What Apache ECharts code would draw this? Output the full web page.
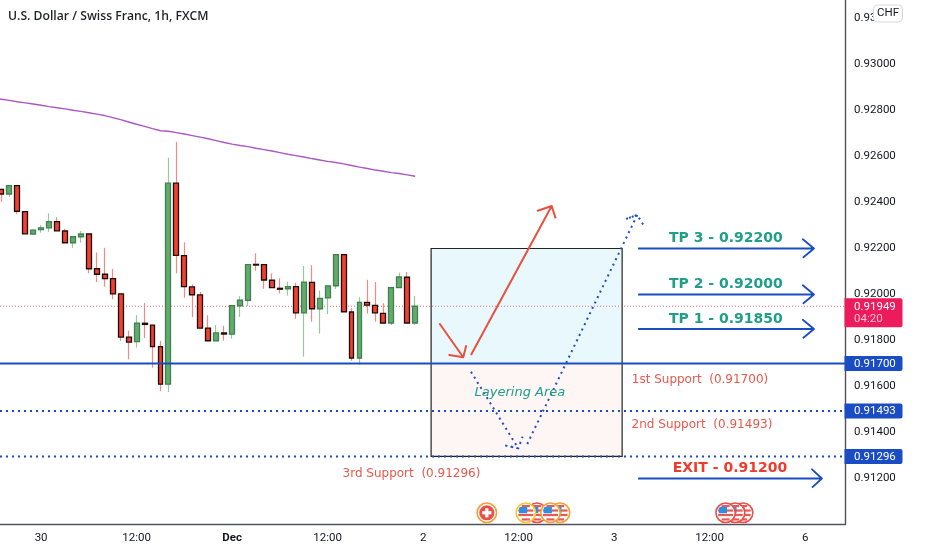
<!DOCTYPE html>
<html><head><meta charset="utf-8">
<style>html,body{margin:0;padding:0;background:#fff}#c{width:932px;height:550px}</style>
<script src="https://cdn.jsdelivr.net/npm/echarts@6/dist/echarts.min.js"></script>
</head><body><div id="c"></div>
<script>
const chartTitle='U.S. Dollar / Swiss Franc, 1h, FXCM';
const quoteCurrency='CHF';
const opens=[.92457,.92437,.92473,.92360,.92263,.92282,.92290,.92317,.92276,.92225,.92251,.92263,.92112,.92088,.92069,.92003,.91815,.91795,.91875,.91867,.91773,.91610,.92484,.92169,.92033,.91998,.91854,.91799,.91833,.91828,.91951,.91975,.92131,.92130,.92062,.92027,.92025,.92034,.91920,.92053,.91938,.91985,.92038,.92173,.91924,.91724,.91966,.91953,.91918,.91876,.92030,.92075,.91876];
const closes=[.92437,.92473,.92362,.92264,.92280,.92290,.92317,.92277,.92225,.92251,.92263,.92112,.92088,.92069,.92003,.91815,.91793,.91875,.91870,.91773,.91610,.92484,.92170,.92034,.91999,.91854,.91799,.91833,.91828,.91951,.91975,.92130,.92128,.92063,.92030,.92023,.92034,.91920,.92054,.91938,.91983,.92037,.92173,.91925,.91724,.91966,.91954,.91920,.91876,.92030,.92076,.91876,.91949];
const highs=[.92459,.92473,.92473,.92360,.92283,.92302,.92353,.92336,.92286,.92251,.92276,.92263,.92183,.92203,.92111,.92003,.91843,.91910,.91963,.91867,.91798,.92595,.92664,.92227,.92044,.92012,.91910,.91867,.91864,.91951,.91993,.92130,.92179,.92130,.92092,.92070,.92056,.92051,.92124,.92127,.92017,.92037,.92173,.92173,.91940,.91988,.92064,.92054,.91962,.92030,.92095,.92098,.91993];
const lows=[.92403,.92425,.92349,.92264,.92259,.92269,.92273,.92277,.92225,.92203,.92225,.92092,.92054,.92034,.91979,.91799,.91718,.91769,.91811,.91682,.91580,.91576,.92092,.91986,.91902,.91854,.91799,.91799,.91799,.91808,.91902,.91950,.92103,.92025,.92030,.92005,.91995,.91895,.91730,.91882,.91830,.91915,.92024,.91925,.91712,.91695,.91917,.91882,.91876,.91867,.92030,.91876,.91867];
// moving average starts one hour before the first visible candle
const movingAverage=[.92854,.92849,.92844,.92838,.92833,.92828,.92823,.92817,.92812,.92807,.92801,.92796,.92790,.92784,.92778,.92769,.92760,.92750,.92740,.92731,.92721,.92712,.92710,.92704,.92698,.92691,.92684,.92677,.92669,.92661,.92654,.92648,.92643,.92636,.92630,.92624,.92617,.92610,.92604,.92598,.92591,.92585,.92579,.92574,.92568,.92561,.92554,.92548,.92541,.92536,.92530,.92526,.92520,.92514];

const timeTickHours=[5,17,29,41,53,65,77,89,101];
const timeTickLabels=['30','12:00','Dec','12:00','2','12:00','3','12:00','6'];

const lastPrice=.91949, countdown='04:20';
const supportLevels=[.91700,.91493,.91296];

const boxLeft=54, boxRight=78, boxTop=.92200, boxMiddle=.91700, boxBottom=.91296;

const targetPrices=[.92200,.92000,.91850];
const exitPrice=.91200;

const noteTexts=['TP 3 - 0.92200','TP 2 - 0.92000','TP 1 - 0.91850','EXIT - 0.91200','1st Support  (0.91700)','2nd Support  (0.91493)','3rd Support  (0.91296)','Layering Area'];
const noteHours=[91.04,91.04,91.04,91.55,87.78,88.03,51.53,65.16];
const notePrices=[.92244,.92043,.91892,.91246,.91628,.91434,.91218,.91572];

const redArrowDown=[[55.03,.91875],[58.04,.91727],[56.28,.91737],[58.04,.91727],[58.42,.91779]];
const redArrowUp=[[59.01,.91737],[69.15,.92385],[67.39,.92364],[69.15,.92385],[69.65,.92331]];
const dottedDown=[[59.01,.91664],[64.95,.91331],[63.41,.91343],[64.95,.91331],[65.5,.91382]];
const dottedUp=[[66.08,.91350],[79.9,.92346],[78.44,.92328],[79.9,.92346],[80.74,.92298]];

const eventHours=[67.3,70.2,69,65.9,61,93.2,92.2,91];
const eventKinds=['us','us','us','us','ch','us','us','us'];
const eventRings=['#e9504a','#f7a031','#f7a031','#fbc62d','#f7a031','#e9504a','#e9504a','#e9504a'];
const eventPrice=.91051;

const xMin=-.163, xMax=106;
const yMin=.91, yMax=.932804;
const hours=opens.map((_,i)=>i);

const BLUE='#1a4cc4', RED='#e9503f', TEAL='#1f9e8a', PINK='#ec1c5c';

function path(points,color,width,type,z){
  return {type:'line',data:points,showSymbol:false,symbol:'none',silent:true,animation:false,z:z||6,
    lineStyle:{color:color,width:width,type:type||'solid',cap:'butt',join:'round'}};
}
function arrow(price,startH,tipH,backH){
  return [[startH,price],[tipH,price],[backH,price+.0004],[tipH,price],[backH,price-.0004]];
}

const series=[];
// trade box
series.push({type:'custom',z:1,silent:true,animation:false,clip:false,data:[[boxLeft,boxTop,boxRight,boxMiddle,0],[boxLeft,boxMiddle,boxRight,boxBottom,1]],
  encode:{x:[0,2],y:[1,3]},
  renderItem:(p,api)=>{
    const a=api.coord([api.value(0),api.value(1)]),b=api.coord([api.value(2),api.value(3)]);
    return {type:'rect',shape:{x:a[0],y:a[1],width:b[0]-a[0],height:b[1]-a[1]},
      style:{fill:api.value(4)?'#fdf6f5':'#e9f8fc',stroke:'#222',lineWidth:1.2}};
  }});
// last price line
series.push(path([[xMin,lastPrice],[xMax,lastPrice]],'#e56b75',1,[1,2],2));
// candle wicks and bodies
series.push({type:'candlestick',z:3,silent:true,animation:false,barWidth:1,
  data:hours.map(i=>[i,opens[i],closes[i],lows[i],highs[i]]),encode:{x:0,y:[1,2,3,4]},
  itemStyle:{color:'#97c8a0',color0:'#f28a82',borderColor:'#97c8a0',borderColor0:'#f28a82',borderWidth:1.2}});
series.push({type:'candlestick',z:4,silent:true,animation:false,barWidth:5.4,
  data:hours.map(i=>[i,opens[i],closes[i],Math.min(opens[i],closes[i]),Math.max(opens[i],closes[i])]),encode:{x:0,y:[1,2,3,4]},
  itemStyle:{color:'#62ab6e',color0:'#f0402f',borderColor:'#43804f',borderColor0:'#1c0d0b',borderWidth:1.3}});
// moving average
series.push(path(movingAverage.map((v,i)=>[i-1,v]),'#ab58c2',1.4,'solid',5));
// supports
series.push(path([[xMin,supportLevels[0]],[xMax,supportLevels[0]]],BLUE,2,'solid',5));
series.push(path([[xMin,supportLevels[1]],[xMax,supportLevels[1]]],BLUE,2,[2,4],5));
series.push(path([[xMin,supportLevels[2]],[xMax,supportLevels[2]]],BLUE,2,[2,4],5));
// arrows
targetPrices.forEach(p=>series.push(path(arrow(p,80,102.1,100.7),BLUE,1.8)));
series.push(path(arrow(exitPrice,80,103.1,101.85),BLUE,1.8));
series.push(path(redArrowDown,RED,2));
series.push(path(redArrowUp,RED,2));
series.push(path(dottedDown,BLUE,2,[2,4]));
series.push(path(dottedUp,BLUE,2,[2,4]));
// text notes
const noteStyle=i=>{
  if(i<3) return {fill:TEAL,font:'bold 14px "DejaVu Sans"'};
  if(i===3) return {fill:'#ef3a2c',font:'bold 14px "DejaVu Sans"'};
  if(i===7) return {fill:TEAL,font:'italic 13px "DejaVu Sans"'};
  return {fill:'#e8584c',font:'12px "DejaVu Sans"'};
};
series.push({type:'custom',z:8,silent:true,animation:false,clip:false,data:noteTexts.map((_,i)=>[noteHours[i],notePrices[i],i]),encode:{x:0,y:1},
  renderItem:(p,api)=>{
    const i=api.value(2),c=api.coord([api.value(0),api.value(1)]);
    return {type:'text',style:Object.assign({text:noteTexts[i],x:c[0],y:c[1],textAlign:'center',textVerticalAlign:'middle'},noteStyle(i))};
  }});
// price tags on the axis
series.push({type:'custom',z:9,silent:true,animation:false,clip:false,
  data:[[xMax,lastPrice,1]].concat(supportLevels.map(v=>[xMax,v,0])),encode:{x:0,y:1},
  renderItem:(p,api)=>{
    const c=api.coord([api.value(0),api.value(1)]),two=api.value(2)===1,f='11.5px Roboto';
    const kids=[{type:'rect',shape:{x:c[0]-.5,y:c[1]-(two?8:7.5),width:58,height:two?29:15,r:[0,2,2,0]},style:{fill:two?PINK:BLUE}},
      {type:'text',style:{text:api.value(1).toFixed(5),x:c[0]+9,y:c[1]+.5,textVerticalAlign:'middle',fill:'#fff',font:f}}];
    if(two) kids.push({type:'text',style:{text:countdown,x:c[0]+9,y:c[1]+13,textVerticalAlign:'middle',fill:'rgba(255,255,255,.72)',font:f}});
    return {type:'group',children:kids};
  }});
// event icons
series.push({type:'custom',z:7,silent:true,animation:false,clip:false,data:eventHours.map((h,i)=>[h,eventPrice,i]),encode:{x:0,y:1},
  renderItem:(p,api)=>{
    const i=api.value(2),c=api.coord([api.value(0),api.value(1)]),x=c[0],y=c[1];
    const kids=[{type:'circle',shape:{cx:x,cy:y,r:9.7},style:{fill:'#fff',stroke:eventRings[i],lineWidth:1.6}}];
    if(eventKinds[i]==='ch'){
      kids.push({type:'circle',shape:{cx:x,cy:y,r:7.6},style:{fill:'#e8504a'}});
      kids.push({type:'rect',shape:{x:x-4.6,y:y-1.6,width:9.2,height:3.2},style:{fill:'#fff'}});
      kids.push({type:'rect',shape:{x:x-1.6,y:y-4.6,width:3.2,height:9.2},style:{fill:'#fff'}});
    }else{
      const r=7.8,n=7,h=2*r/n;
      for(let k=0;k<n;k++){
        if(k%2) continue;
        const top=-r+k*h,mid=Math.abs(top+h/2),w=2*Math.sqrt(Math.max(r*r-mid*mid,0));
        kids.push({type:'rect',shape:{x:x-w/2,y:y+top,width:w,height:h},style:{fill:'#ea5a55'}});
      }
      kids.push({type:'rect',shape:{x:x-6.8,y:y-6,width:8.2,height:6.5,r:[2,0,0,0]},style:{fill:'#2f8fe3'}});
    }
    return {type:'group',children:kids};
  }});

const chart=echarts.init(document.getElementById('c'),null,{renderer:'canvas'});
chart.setOption({
  animation:false,backgroundColor:'#fff',
  title:{text:chartTitle,left:3,top:5.5,textStyle:{fontFamily:'"Open Sans"',fontSize:12.2,fontWeight:600,color:'#1f2229'}},
  grid:{left:0,top:0,width:845,height:524.5,containLabel:false},
  tooltip:{show:false},
  xAxis:{type:'value',min:xMin,max:xMax,splitLine:{show:false},axisTick:{show:false},
    axisLine:{show:true,onZero:false,lineStyle:{color:'#50535e',width:1.4}},
    axisLabel:{customValues:timeTickHours,margin:8,color:'#131722',fontFamily:'Roboto',fontSize:11.5,
      formatter:v=>{const t=timeTickLabels[timeTickHours.indexOf(v)];return t==='Dec'?'{b|Dec}':t;},
      rich:{b:{fontFamily:'Roboto',fontSize:11.5,fontWeight:'bold',color:'#131722'}}}},
  yAxis:{type:'value',position:'right',min:yMin,max:yMax,interval:.002,splitLine:{show:false},axisTick:{show:false},
    axisLine:{show:true,onZero:false,lineStyle:{color:'#50535e',width:1.4}},
    axisLabel:{margin:9,padding:[2,0,0,0],color:'#131722',fontFamily:'Roboto',fontSize:11.5,showMaxLabel:false,
      formatter:v=>v<.9105?'':v.toFixed(5)}},
  series:series,
  graphic:[
    {type:'rect',z:1000,zlevel:1,shape:{x:873.5,y:5,width:29,height:17,r:4},style:{fill:'#fff',stroke:'#d4d6dc',lineWidth:1}},
    {type:'text',z:1001,zlevel:1,style:{text:quoteCurrency,x:888,y:13.5,textAlign:'center',textVerticalAlign:'middle',fill:'#131722',font:'11.5px Roboto'}}
  ]
});
</script></body></html>
